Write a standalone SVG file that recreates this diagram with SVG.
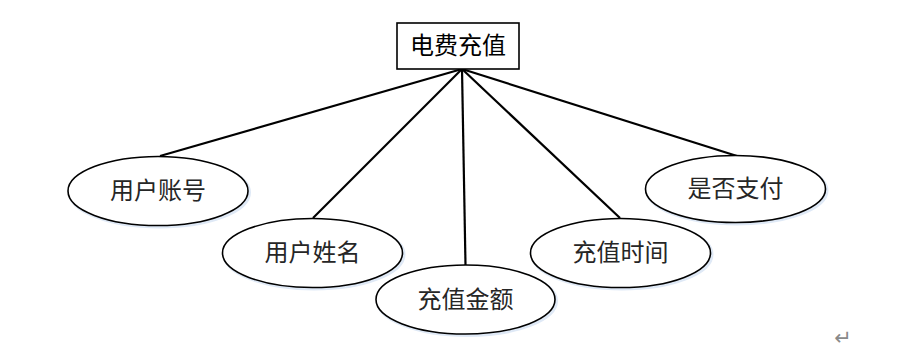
<svg xmlns="http://www.w3.org/2000/svg" width="914" height="353" viewBox="0 0 914 353">
<style>
.box{fill:#fff;stroke:#000;stroke-width:1.6}
.ell{fill:#fff;stroke:#000;stroke-width:1.6}
.shd{fill:none;stroke:#dfe9f6;stroke-width:3}
.edge{stroke:#000;stroke-width:2.2;fill:none}
text{font-family:"Liberation Serif","Noto Sans CJK SC",serif;font-size:24px;text-anchor:middle;dominant-baseline:central}
.t{fill:#000}
.e{fill:#262626}
.mark{fill:#8a8a8a;font-size:21px;font-family:"DejaVu Sans",sans-serif}
</style>
<rect width="914" height="353" fill="#fff"/>
<g id="connectors">
<line class="edge" x1="462" y1="69" x2="160" y2="156"/>
<line class="edge" x1="462" y1="69" x2="313" y2="218"/>
<line class="edge" x1="462" y1="69" x2="465.5" y2="265"/>
<line class="edge" x1="462" y1="69" x2="620" y2="218"/>
<line class="edge" x1="462" y1="69" x2="737" y2="156"/>
</g>
<g id="n-main">
<rect class="box" x="397" y="23" width="122" height="46"/>
<text class="t" x="458" y="46">电费充值</text>
</g>
<g id="n-account">
<ellipse class="shd" cx="159.5" cy="192.5" rx="90" ry="34.5"/>
<ellipse class="ell" cx="158" cy="191" rx="90" ry="34.5"/>
<text class="e" x="158" y="191">用户账号</text>
</g>
<g id="n-name">
<ellipse class="shd" cx="314" cy="254.5" rx="90" ry="34.5"/>
<ellipse class="ell" cx="312.5" cy="253" rx="90" ry="34.5"/>
<text class="e" x="312.5" y="253">用户姓名</text>
</g>
<g id="n-amount">
<ellipse class="shd" cx="467" cy="301" rx="89.5" ry="34.5"/>
<ellipse class="ell" cx="465.5" cy="299.5" rx="89.5" ry="34.5"/>
<text class="e" x="465.5" y="299.5">充值金额</text>
</g>
<g id="n-time">
<ellipse class="shd" cx="622" cy="254.5" rx="90" ry="34.5"/>
<ellipse class="ell" cx="620.5" cy="253" rx="90" ry="34.5"/>
<text class="e" x="620.5" y="253">充值时间</text>
</g>
<g id="n-paid">
<ellipse class="shd" cx="737" cy="190.5" rx="90" ry="33.5"/>
<ellipse class="ell" cx="735.5" cy="189" rx="90" ry="33.5"/>
<text class="e" x="735.5" y="189">是否支付</text>
</g>
<text class="mark" x="843" y="338">↵</text>
</svg>
